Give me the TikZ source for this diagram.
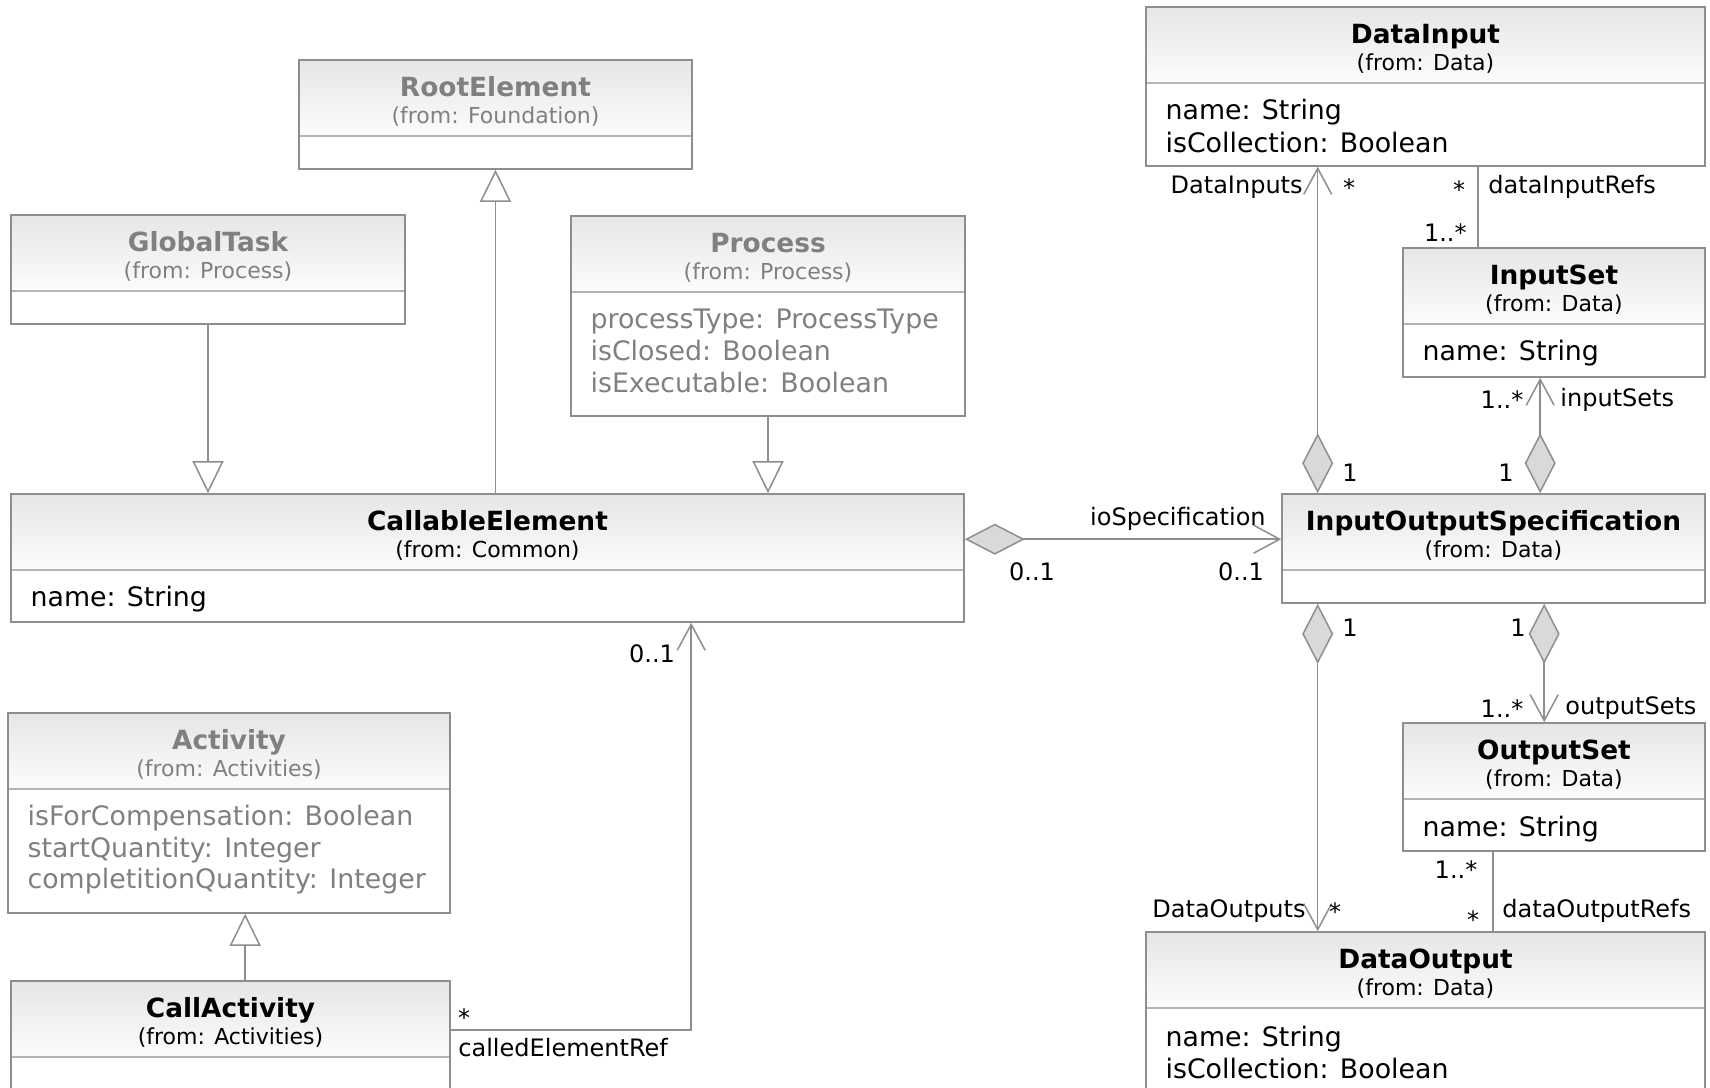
\documentclass[tikz,border=0pt]{standalone}
\usepackage{fontspec}
\setmainfont{DejaVu Sans}
\usetikzlibrary{arrows.meta,fit,calc}

\definecolor{boxgray}{HTML}{8E8E8E}
\definecolor{divgray}{HTML}{B4B4B4}
\definecolor{linegray}{HTML}{8E8E8E}
\definecolor{headtop}{HTML}{E6E6E6}
\definecolor{headbot}{HTML}{FCFCFC}
\definecolor{diafill}{HTML}{D9D9D9}
\definecolor{fadegray}{HTML}{808080}

\tikzset{
  umlbox/.style={draw=boxgray, line width=0.8pt, inner sep=0pt},
  headfill/.style={top color=headtop, bottom color=headbot, draw=none},
  divline/.style={draw=divgray, line width=0.8pt},
  ttl/.style={font=\fontsize{13.2}{15}\selectfont\bfseries, inner sep=0pt, anchor=base},
  frm/.style={font=\fontsize{11}{13}\selectfont, inner sep=0pt, anchor=base},
  attr/.style={font=\fontsize{13.4}{16}\selectfont, inner sep=0pt, anchor=base west},
  lbl/.style={font=\fontsize{12}{14}\selectfont, inner sep=0pt, anchor=base},
  lble/.style={lbl, anchor=base east},
  lblw/.style={lbl, anchor=base west},
  faded/.style={text=fadegray},
  conn/.style={draw=linegray, line width=0.75pt},
  gen/.style={conn, -{Triangle[open, length=16pt, width=15.5pt, fill=white]}},
  nav/.style={conn, -{Straight Barb[length=13pt, width=14pt]}},
  comp/.style={conn, {Diamond[length=30pt, width=15.5pt, fill=diafill]}-{Straight Barb[length=13pt, width=14pt]}},
}

% class frame: header shading, compartment line, outline, name and package
\newcommand{\umlclass}[8][]{%
  \path[headfill] (#3,#4) rectangle (#5,#4+76);
  \draw[divline] (#3,#4+76) -- (#5,#4+76);
  \node[umlbox, fit={(#3,#4) (#5,#6)}] (#2) {};
  \node[ttl,#1] at ($(#2.north)+(0,37.5)$) {#7};
  \node[frm,#1] at ($(#2.north)+(0,64)$) {(from: #8)};
}
% one attribute line; the offset is the baseline below the top of its class
\newcommand{\umlattr}[4][]{%
  \node[attr,#1] at ($(#2.north west)+(20,#3)$) {#4};
}

\begin{document}
\begin{tikzpicture}[x=0.5pt, y=-0.5pt]
\useasboundingbox (0,0) rectangle (1710,1088);
\fill[white] (0,0) rectangle (1710,1088);
\clip (0,0) rectangle (1710,1088);

% ---- classes ----
\umlclass[faded]{re}{299}{60}{692}{169}{RootElement}{Foundation}
\umlclass[faded]{gt}{11}{215}{405}{324}{GlobalTask}{Process}
\umlclass[faded]{pr}{571}{216}{965}{416}{Process}{Process}
\umlattr[faded]{pr}{113}{processType: ProcessType}
\umlattr[faded]{pr}{145}{isClosed: Boolean}
\umlattr[faded]{pr}{177}{isExecutable: Boolean}

\umlclass{ce}{11}{494}{964}{622}{CallableElement}{Common}
\umlattr{ce}{113}{name: String}

\umlclass[faded]{ac}{8}{713}{450}{913}{Activity}{Activities}
\umlattr[faded]{ac}{113.5}{isForCompensation: Boolean}
\umlattr[faded]{ac}{145}{startQuantity: Integer}
\umlattr[faded]{ac}{176.5}{completitionQuantity: Integer}

\umlclass{ca}{11}{981}{450}{1110}{CallActivity}{Activities}

\umlclass{di}{1146}{7}{1705}{166}{DataInput}{Data}
\umlattr{di}{113.5}{name: String}
\umlattr{di}{146}{isCollection: Boolean}

\umlclass{is}{1403}{248}{1705}{377}{InputSet}{Data}
\umlattr{is}{113.5}{name: String}

\umlclass{ios}{1282}{494}{1705}{603}{InputOutputSpecification}{Data}

\umlclass{os}{1403}{723}{1705}{851}{OutputSet}{Data}
\umlattr{os}{114}{name: String}

\umlclass{do}{1146}{932}{1705}{1110}{DataOutput}{Data}
\umlattr{do}{115}{name: String}
\umlattr{do}{147.5}{isCollection: Boolean}

% ---- attachment points ----
\coordinate (acx) at ($(ac.south west)+(238,0)$);
\coordinate (ioy) at ($(ce.north east)+(0,46)$);
\coordinate (dix) at ($(ios.north west)+(36.5,0)$);
\coordinate (isx) at ($(ios.north west)+(259,0)$);
\coordinate (osx) at ($(ios.south west)+(263,0)$);
\coordinate (dox) at ($(ios.south west)+(36.5,0)$);
\coordinate (dirx) at ($(is.north west)+(76,0)$);
\coordinate (dorx) at ($(os.south west)+(91,0)$);
\coordinate (cay) at ($(ca.north east)+(0,50)$);
\coordinate (cex) at ($(ce.south west)+(681,0)$);

% ---- generalizations ----
\draw[gen] (gt.south) -- (gt.south |- ce.north);
\draw[gen] (ce.north -| re.south) -- (re.south);
\draw[gen] (pr.south) -- (pr.south |- ce.north);
\draw[gen] (acx |- ca.north) -- (acx);

% ---- associations ----
\draw[comp] (ioy) -- (ioy -| ios.west);
\draw[comp] (dix) -- (dix |- di.south);
\draw[comp] (isx) -- (isx |- is.south);
\draw[comp] (osx) -- (osx |- os.north);
\draw[comp] (dox) -- (dox |- do.north);
\draw[conn] (dirx) -- (dirx |- di.south);
\draw[conn] (dorx) -- (dorx |- do.north);
\draw[nav] (cay) -| (cex |- ce.south);

% ---- association labels ----
\node[lble] at (1266,525.5) {ioSpecification};
\node[lbl] at (1032,580.7) {0..1};
\node[lbl] at (1241,580.7) {0..1};

\node[lble] at (1303,193.5) {DataInputs};
\node[lbl] at (1349,196) {*};
\node[lbl] at (1459,198) {*};
\node[lblw] at (1488,193.5) {dataInputRefs};
\node[lble] at (1467,241) {1..*};

\node[lbl] at (1350,481.7) {1};
\node[lbl] at (1506,481.7) {1};
\node[lbl] at (1502,408) {1..*};
\node[lblw] at (1560,406.5) {inputSets};

\node[lbl] at (1350,636.7) {1};
\node[lbl] at (1518,636.7) {1};
\node[lbl] at (1502,717) {1..*};
\node[lblw] at (1565,714.5) {outputSets};

\node[lble] at (1306,917.5) {DataOutputs};
\node[lbl] at (1335,920) {*};
\node[lbl] at (1456,878) {1..*};
\node[lbl] at (1473,928) {*};
\node[lblw] at (1502,917.5) {dataOutputRefs};

\node[lbl] at (464,1026) {*};
\node[lblw] at (458,1056) {calledElementRef};
\node[lbl] at (652,662.7) {0..1};
\end{tikzpicture}
\end{document}
